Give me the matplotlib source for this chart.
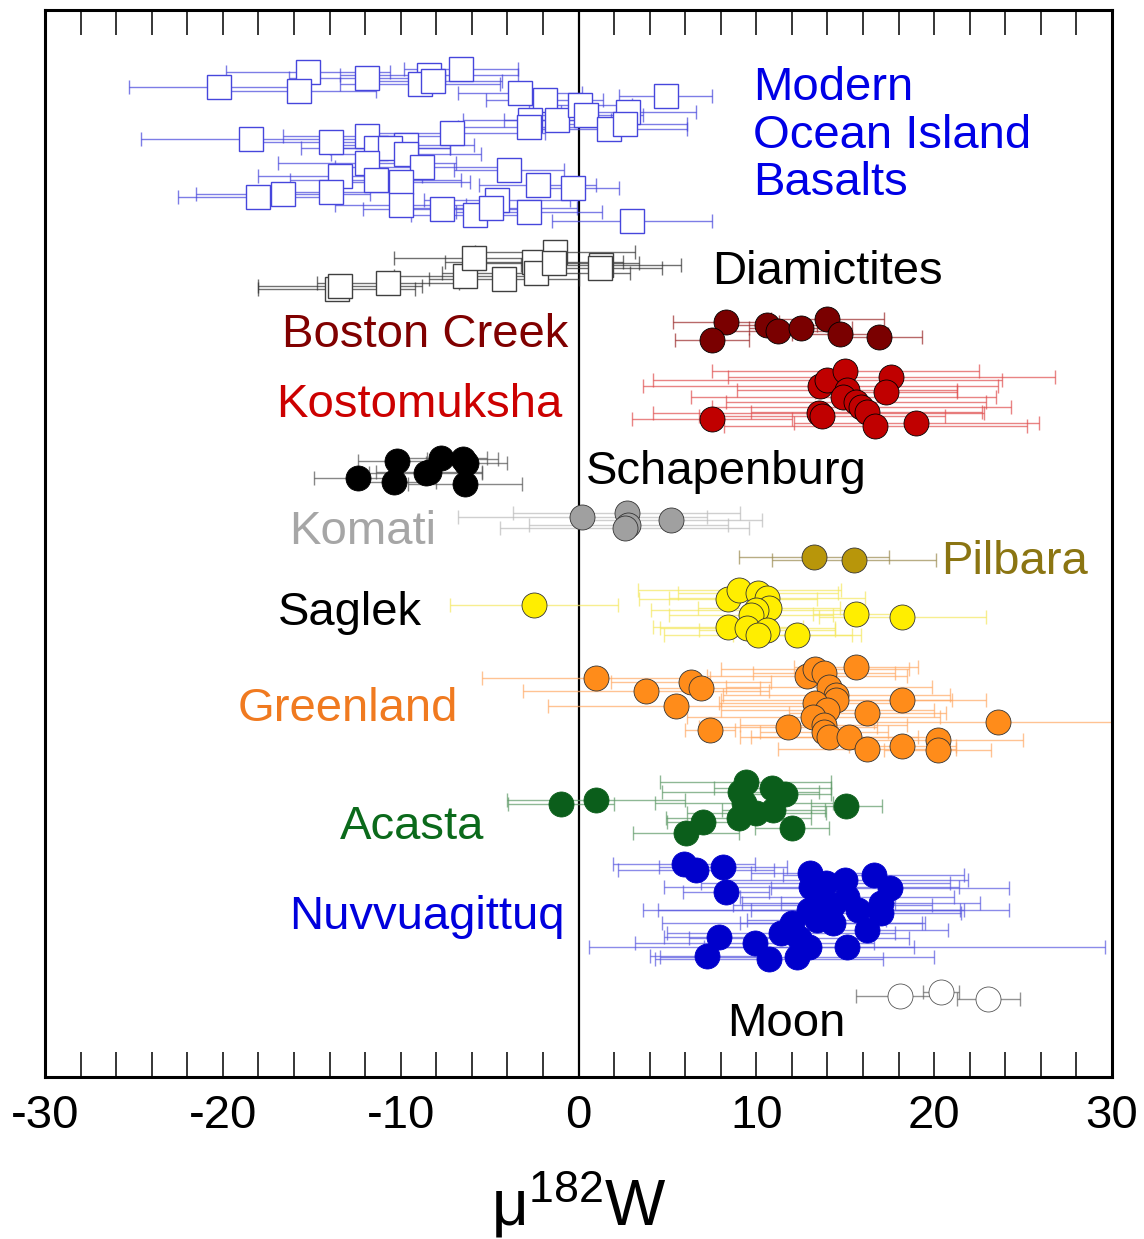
import numpy as np
import matplotlib.pyplot as plt

plt.rcParams['font.family'] = ['Liberation Sans', 'DejaVu Sans']
plt.rcParams['mathtext.fontset'] = 'custom'
plt.rcParams['mathtext.rm'] = 'Liberation Sans'
plt.rcParams['mathtext.it'] = 'Liberation Sans'
plt.rcParams['axes.unicode_minus'] = False

# mu182W values, 2SD errors, and vertical row (display offset, top = small)
oib_x = [-20.2, -15.2, -15.7, -11.9, -8.4, -8.9, -8.2, -6.6, -3.3, -1.9, -2.7, -2.8, -1.2, 0.1, 0.4,
         1.7, 2.8, 2.6, 4.9, -18.4, -13.9, -11.9, -9.7, -11.4, -10.6, -7.1, -11.9, -9.7, -8.8, -3.9,
         -2.3, -0.3, -13.4, -18.0, -16.6, -13.9, -11.4, -10.0, -10.0, -7.7, -5.8, -4.6, -4.9, -2.8, 3.0]
oib_err = [5.1, 4.6, 4.3, 4.4, 5.0, 4.5, 3.9, 3.2, 3.5, 3.3, 3.8, 4.0, 3.0, 2.9, 3.2,
           4.4, 3.8, 3.5, 2.6, 6.2, 4.0, 4.7, 3.8, 4.2, 3.4, 5.2, 5.0, 4.2, 4.9, 3.1,
           3.3, 2.6, 4.6, 4.5, 4.9, 3.6, 4.8, 3.9, 3.7, 4.4, 3.6, 4.1, 4.8, 4.1, 4.5]
oib_row = [87, 72, 91, 78, 75, 84, 81, 69, 93, 100, 120, 127, 120, 105, 115,
           129, 112, 124, 96, 139, 142, 136, 145, 148, 148, 133, 163, 154, 167, 170,
           185, 188, 176, 197, 194, 192, 180, 182, 205, 209, 215, 200, 208, 212, 221]

diam_x = [-13.6, -13.4, -10.7, -6.4, -5.9, -4.2, -2.5, -2.4, -1.3, -1.4, 1.25, 1.2]
diam_err = [4.4, 4.6, 4.0, 4.0, 4.5, 4.2, 5.0, 5.3, 4.5, 4.8, 4.5, 3.5]
diam_row = [289, 286, 283, 276, 258, 279, 262, 273, 252, 263, 265, 268]

boston_x = [8.3, 7.5, 10.6, 11.2, 12.5, 14.0, 14.7, 16.9]
boston_err = [3.0, 2.1, 2.8, 3.4, 2.9, 3.2, 2.7, 2.4]
boston_row = [322, 340, 325, 331, 328, 319, 334, 337]

kosto_x = [7.5, 13.6, 14.0, 15.0, 15.1, 14.9, 15.6, 15.9, 16.2, 16.7, 13.5, 13.7, 17.6, 17.3, 19.0]
kosto_err = [4.5, 10.0, 9.8, 7.5, 6.2, 8.6, 7.3, 8.4, 6.5, 8.5, 9.3, 6.9, 9.2, 4.0, 6.9]
kosto_row = [419, 386, 380, 371, 390, 397, 402, 407, 412, 426, 413, 416, 377, 392, 423]

schap_x = [-12.4, -10.2, -10.4, -8.6, -7.75, -8.4, -6.5, -6.3, -6.4]
schap_err = [2.5, 2.2, 2.4, 3.2, 2.6, 3.0, 2.0, 2.3, 3.2]
schap_row = [478, 461, 482, 473, 458, 472, 459, 463, 484]

komati_x = [0.2, 2.7, 2.8, 2.6, 5.2]
komati_err = [7.0, 6.4, 5.6, 7.0, 5.1]
komati_row = [517, 513, 525, 528, 520]

pilbara_x = [13.25, 15.5]
pilbara_err = [4.2, 4.6]
pilbara_row = [557, 560]

saglek_x = [-2.5, 8.4, 9.05, 10.1, 10.6, 10.7, 10.0, 9.7, 8.4, 9.5, 10.6, 10.1, 12.3, 15.6, 18.2]
saglek_err = [4.7, 5.0, 5.7, 4.5, 5.5, 4.0, 5.9, 4.6, 4.2, 4.9, 3.8, 5.3, 3.6, 2.4, 4.7]
saglek_row = [605, 599, 590, 593, 598, 608, 610, 615, 627, 628, 630, 635, 635, 614, 617]

green_x = [0.97, 3.8, 5.5, 6.3, 6.9, 7.4, 11.8, 12.85, 13.3, 13.8, 14.1, 14.5, 14.5, 13.3, 14.0,
           13.2, 13.8, 13.8, 14.1, 15.2, 15.6, 16.25, 16.2, 18.2, 18.2, 20.2, 20.2, 23.6]
green_err = [6.4, 6.9, 7.2, 4.5, 3.3, 1.4, 5.0, 5.6, 5.3, 4.0, 5.8, 6.4, 6.5, 5.4, 6.0,
             7.1, 4.7, 3.6, 5.0, 5.5, 3.5, 4.4, 5.0, 4.7, 3.0, 4.8, 3.0, 7.0]
green_row = [678, 691, 706, 682, 688, 730, 727, 676, 669, 673, 687, 695, 700, 703, 710,
             717, 725, 732, 737, 737, 667, 713, 749, 700, 746, 740, 750, 722]

acasta_x = [-0.98, 1.0, 6.05, 7.0, 9.4, 9.1, 9.3, 9.0, 10.0, 10.9, 11.6, 10.95, 12.0, 15.05]
acasta_err = [3.0, 5.0, 3.0, 2.0, 4.8, 4.4, 5.0, 4.1, 3.9, 3.3, 2.6, 2.9, 2.1, 2.0]
acasta_row = [804, 800, 833, 822, 782, 792, 803, 818, 813, 788, 794, 810, 828, 806]

nuvv_x = [5.95, 6.6, 8.1, 8.3, 13.0, 13.9, 15.0, 16.6, 17.5, 13.1, 15.1, 17.0, 12.95, 13.9, 15.7, 14.3,
          16.2, 17.0, 12.0, 11.4, 12.4, 12.95, 7.9, 7.2, 9.9, 10.7, 12.3, 15.1, 13.4, 13.5, 14.3]
nuvv_err = [4.0, 4.4, 3.6, 2.4, 3.3, 7.0, 6.9, 5.1, 6.7, 8.3, 6.0, 5.6, 8.5, 10.3, 6.0, 5.2,
            4.6, 4.5, 7.3, 6.4, 6.2, 5.9, 3.1, 3.2, 6.7, 6.4, 7.7, 14.5, 3.9, 4.3, 5.6]
nuvv_row = [864, 870, 867, 892, 873, 883, 880, 875, 888, 887, 897, 903, 910, 910, 910, 923,
            930, 913, 923, 933, 938, 947, 937, 956, 943, 959, 957, 947, 920, 903, 905]

moon_x = [18.1, 20.4, 23.05]
moon_err = [2.5, 1.0, 1.75]
moon_row = [996, 992, 999]

fig = plt.figure(figsize=(11.44, 12.39), dpi=100)
ax = fig.add_axes([45 / 1144, 1 - 1077 / 1239, 1067 / 1144, 1067 / 1239])

ax.axvline(0, color='black', lw=1.6, zorder=1)


def draw(xs, rows, errs, face, edge, bar, marker='o', ms=18, mew=0.6):
    ax.errorbar(xs, rows, xerr=errs, fmt='none', ecolor=bar, elinewidth=1.0,
                capsize=5, capthick=1.0, alpha=0.7, zorder=2)
    ax.plot(xs, rows, ls='none', marker=marker, ms=ms, mfc=face, mec=edge,
            mew=mew, zorder=3)


draw(oib_x, oib_row, oib_err, 'white', '#4646dc', '#4646dc', marker='s', ms=17, mew=1.0)
draw(diam_x, diam_row, diam_err, 'white', '#404040', '#333333', marker='s', ms=17, mew=1.0)
draw(boston_x, boston_row, boston_err, '#7a0000', 'black', '#9a2a2a')
draw(kosto_x, kosto_row, kosto_err, '#c00000', 'black', '#e05050')
draw(schap_x, schap_row, schap_err, 'black', 'black', '#555555')
draw(komati_x, komati_row, komati_err, '#a0a0a0', '#333333', '#bbbbbb')
draw(pilbara_x, pilbara_row, pilbara_err, '#b8960a', '#333333', '#9a8a50')
draw(saglek_x, saglek_row, saglek_err, '#ffee00', '#333333', '#f5e860')
draw(green_x, green_row, green_err, '#ff8c1a', '#333333', '#ffaa66')
draw(acasta_x, acasta_row, acasta_err, '#0b5e1b', '#0b5e1b', '#5f9a68')
draw(nuvv_x, nuvv_row, nuvv_err, '#0000cc', '#0000cc', '#5a5ae0')
draw(moon_x, moon_row, moon_err, 'white', '#555555', '#666666')

# group labels: text, x, baseline row, colour
labels = [
    ('Modern\nOcean Island\nBasalts', 9.8, 195, '#0000e6'),
    ('Diamictites', 7.5, 284, 'black'),
    ('Boston Creek', -16.7, 347, '#800000'),
    ('Kostomuksha', -17.0, 417, '#cc0000'),
    ('Schapenburg', 0.42, 484, 'black'),
    ('Komati', -16.3, 544, '#a6a6a6'),
    ('Pilbara', 20.4, 574, '#8b7512'),
    ('Saglek', -16.9, 625, 'black'),
    ('Greenland', -19.15, 721, '#f07a20'),
    ('Acasta', -13.4, 839, '#0b6a1b'),
    ('Nuvvuagittuq', -16.3, 929, '#0000dd'),
    ('Moon', 8.35, 1036, 'black'),
]
for txt, lx, ly, col in labels:
    ax.text(lx, ly, txt, color=col, fontsize=34, ha='left', va='baseline',
            linespacing=1.1, zorder=4)

ax.set_xlim(-30, 30)
ax.set_ylim(1077, 10)
ax.set_yticks([])
ax.set_xticks(np.arange(-30, 31, 10))
ax.set_xticks(np.arange(-30, 31, 2), minor=True)
ax.tick_params(axis='x', which='both', direction='in', top=True, bottom=True,
               length=18, width=1.1)
ax.tick_params(axis='x', which='major', labelsize=34, pad=12)
for s in ax.spines.values():
    s.set_linewidth(2.2)

ax.set_xlabel(r'$\mathregular{\mu^{182}W}$', fontsize=46, labelpad=22)

fig.savefig('out.png', dpi=100)
